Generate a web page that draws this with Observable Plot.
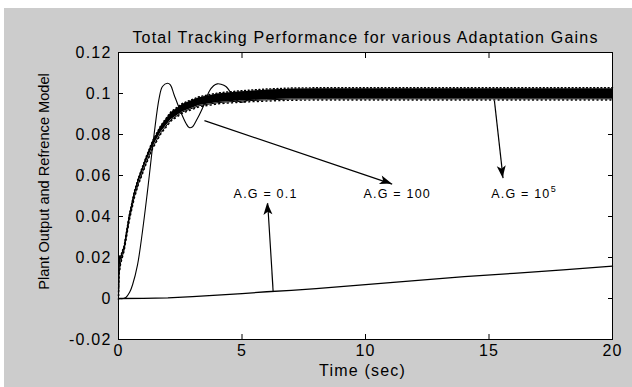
<!DOCTYPE html>
<html><head><meta charset="utf-8">
<script src="https://cdn.jsdelivr.net/npm/d3@7"></script>
<script src="https://cdn.jsdelivr.net/npm/@observablehq/plot@0.6"></script>
<style>
html,body{margin:0;padding:0;background:#ffffff;}
#chart{position:absolute;left:4px;top:8px;}
#chart svg text{letter-spacing:1.2px;}
#chart svg text[transform*="rotate"]{letter-spacing:0px;}
</style></head>
<body><div id="chart"></div>
<script>
// ---- text ----
const title = "Total Tracking Performance for various Adaptation Gains";
const xLabel = "Time (sec)";
const yLabel = "Plant Output and Refrence Model";
const xTicks = [0, 5, 10, 15, 20];
const xTickLabels = ["0", "5", "10", "15", "20"];
const yTicks = [-0.02, 0, 0.02, 0.04, 0.06, 0.08, 0.1, 0.12];
const yTickLabels = ["-0.02", "0", "0.02", "0.04", "0.06", "0.08", "0.1", "0.12"];

// ---- A.G = 0.1 (slow ramp) ----
const slowT = [0, 1, 2, 3, 4, 5, 6, 7, 8, 10, 12, 14, 16, 18, 20];
const slowY = [0, 0.0001, 0.0003, 0.0009, 0.0016, 0.0024, 0.0033, 0.004, 0.0048, 0.0068, 0.0087, 0.0107, 0.0123, 0.014, 0.0158];

// ---- A.G = 100 (oscillating thin curve) ----
const midT = [0, 0.2, 0.3, 0.45, 0.57, 0.77, 0.97, 1.17, 1.44, 1.65, 1.78, 1.98, 2.1, 2.25, 2.52, 2.73, 2.86, 3.0, 3.13, 3.4, 3.67, 3.85, 4.0, 4.15, 4.35, 4.57, 4.75, 4.94, 5.15, 5.4, 5.8, 6.5, 8, 10, 12, 14, 16, 18, 20];
const midY = [0, 0, 0.0005, 0.003, 0.0067, 0.0164, 0.0327, 0.052, 0.08, 0.098, 0.1034, 0.105, 0.1042, 0.0994, 0.091, 0.0855, 0.0834, 0.0838, 0.0863, 0.0928, 0.101, 0.1038, 0.1047, 0.1045, 0.1034, 0.1, 0.097, 0.0958, 0.0962, 0.099, 0.1005, 0.1, 0.1, 0.1, 0.1, 0.1, 0.1, 0.1, 0.1];

// ---- A.G = 10^5 (thick noisy band) ----
const fastT    = [0, 0.02, 0.09, 0.23, 0.43, 0.64, 0.8, 1.1, 1.38, 1.71, 2.12, 2.59, 3.27, 4.07, 4.9, 6, 7, 8, 10, 12, 14, 16, 18, 20];
const fastLow  = [0, 0.012, 0.0178, 0.0238, 0.0382, 0.0496, 0.0559, 0.0656, 0.0736, 0.0808, 0.0871, 0.091, 0.0941, 0.0956, 0.0963, 0.0969, 0.0973, 0.0974, 0.0974, 0.0974, 0.0974, 0.0974, 0.0974, 0.0974];
const fastHigh = [0.0008, 0.02, 0.0202, 0.0252, 0.0398, 0.0516, 0.0581, 0.068, 0.0764, 0.0838, 0.0905, 0.0946, 0.0979, 0.0998, 0.1007, 0.1016, 0.1021, 0.1022, 0.1022, 0.1022, 0.1022, 0.1022, 0.1022, 0.1022];

// ---- annotations ----
const noteText = ["A.G = 0.1", "A.G = 100", "A.G = 10"];
const noteT = [4.66, 9.92, 15.09];
const noteY = [0.051, 0.051, 0.051];
const superText = ["5"];
const superT = [17.5];
const superY = [0.051];
const arrowFromT = [6.26, 3.48, 15.22];
const arrowFromY = [0.0037, 0.0868, 0.0964];
const arrowToT = [6.04, 11.08, 15.57];
const arrowToY = [0.0465, 0.0558, 0.0587];

// tables built from the arrays
const slowRows = slowT.map((t, i) => ({t, y: slowY[i]}));
const midRows = midT.map((t, i) => ({t, y: midY[i]}));
const fastRows = fastT.map((t, i) => ({t, lo: fastLow[i], hi: fastHigh[i]}));
const noteRows = noteText.map((s, i) => ({s, t: noteT[i], y: noteY[i]}));
const superRows = superText.map((s, i) => ({s, t: superT[i], y: superY[i]}));
const arrowRows = arrowFromT.map((t, i) => ({x1: t, y1: arrowFromY[i], x2: arrowToT[i], y2: arrowToY[i]}));

function arrowHeads(index, scales) {
  const g = d3.create("svg:g");
  const L = 12, W = 4.5, N = 3;
  for (const a of arrowRows) {
    const x1 = scales.x(a.x1), y1 = scales.y(a.y1), x2 = scales.x(a.x2), y2 = scales.y(a.y2);
    const len = Math.hypot(x2 - x1, y2 - y1);
    const ux = (x2 - x1) / len, uy = (y2 - y1) / len;
    const nx = -uy, ny = ux;
    const p = [
      [x2, y2],
      [x2 - L * ux + W * nx, y2 - L * uy + W * ny],
      [x2 - (L - N) * ux, y2 - (L - N) * uy],
      [x2 - L * ux - W * nx, y2 - L * uy - W * ny]
    ];
    g.append("path").attr("d", "M" + p.map(q => q.join(",")).join("L") + "Z").attr("fill", "black");
  }
  return g.node();
}

const chart = Plot.plot({
  width: 628, height: 379,
  marginLeft: 114, marginRight: 20, marginTop: 44, marginBottom: 48,
  style: {background: "#cccccc", fontFamily: "'Liberation Sans', Arial, sans-serif", fontSize: "16px", color: "black", overflow: "visible"},
  x: {domain: [0, 20]},
  y: {domain: [-0.02, 0.12]},
  marks: [
    Plot.frame({fill: "white"}),
    Plot.areaY(fastRows, {x: "t", y1: "lo", y2: "hi", fill: "black"}),
    Plot.line(fastRows, {x: "t", y: "lo", stroke: "black", strokeWidth: 1}),
    Plot.line(fastRows, {x: "t", y: "hi", stroke: "black", strokeWidth: 1}),
    // jagged noise texture along the band edges
    Plot.line(fastRows, {x: "t", y: "hi", dy: -1.2, stroke: "black", strokeWidth: 1.4, strokeDasharray: "1,2.6"}),
    Plot.line(fastRows, {x: "t", y: "lo", dy: 1.2, stroke: "black", strokeWidth: 1.4, strokeDasharray: "1,3.3"}),
    Plot.line(midRows, {x: "t", y: "y", stroke: "black", strokeWidth: 1.1, curve: "catmull-rom"}),
    Plot.line(slowRows, {x: "t", y: "y", stroke: "black", strokeWidth: 1.3}),
    Plot.link(arrowRows, {x1: "x1", y1: "y1", x2: "x2", y2: "y2", stroke: "black", strokeWidth: 1.2}),
    arrowHeads,
    Plot.text(noteRows, {x: "t", y: "y", text: "s", textAnchor: "start", fontSize: 12.5, fill: "black"}),
    Plot.text(superRows, {x: "t", y: "y", text: "s", textAnchor: "start", fontSize: 9, dy: -5, fill: "black"}),
    Plot.frame({stroke: "black", strokeWidth: 1}),
    Plot.axisX({ticks: xTicks, tickSize: -5, tickPadding: 10, label: null, tickFormat: d => xTickLabels[xTicks.indexOf(d)]}),
    Plot.axisX({ticks: xTicks, anchor: "top", tickSize: -5, label: null, tickFormat: () => ""}),
    Plot.axisY({ticks: yTicks, tickSize: -5, tickPadding: 12, label: null, tickFormat: d => yTickLabels[yTicks.indexOf(d)]}),
    Plot.axisY({ticks: yTicks, anchor: "right", tickSize: -5, label: null, tickFormat: () => ""}),
    Plot.text([title], {text: d => d, frameAnchor: "top", textAnchor: "middle", dy: -21, fontSize: 16, fill: "black"}),
    Plot.text([xLabel], {text: d => d, frameAnchor: "bottom", textAnchor: "middle", dy: 36, dx: -3, fontSize: 16, fill: "black"}),
    Plot.text([yLabel], {text: d => d, frameAnchor: "left", textAnchor: "middle", rotate: -90, dx: -74.5, dy: -14.5, fontSize: 14.6, fill: "black"})
  ]
});
document.getElementById("chart").appendChild(chart);
</script>
</body></html>
